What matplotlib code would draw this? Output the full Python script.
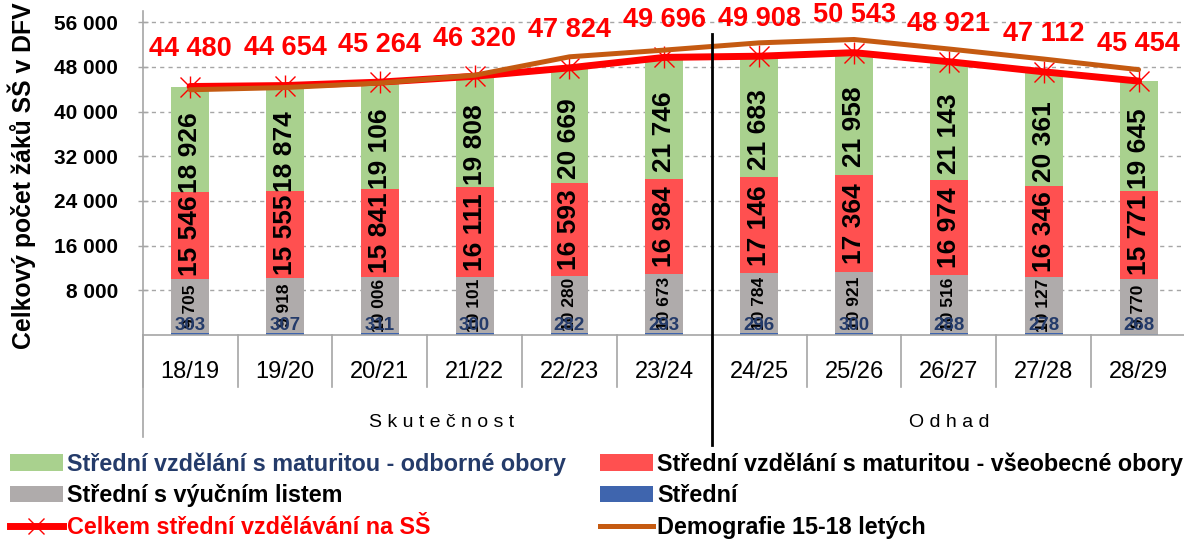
import matplotlib
matplotlib.use("Agg")
import matplotlib.pyplot as plt
from matplotlib.patches import Patch
from matplotlib.lines import Line2D
from matplotlib.ticker import FuncFormatter
import matplotlib.transforms as mtransforms

plt.rcParams['font.family'] = ['Liberation Sans', 'DejaVu Sans']

years = ["18/19", "19/20", "20/21", "21/22", "22/23", "23/24",
         "24/25", "25/26", "26/27", "27/28", "28/29"]
stredni = [303, 307, 311, 300, 282, 293, 296, 300, 288, 278, 268]
vyucni = [9705, 9918, 10006, 10101, 10280, 10673, 10784, 10921, 10516, 10127, 9770]
vseobecne = [15546, 15555, 15841, 16111, 16593, 16984, 17146, 17364, 16974, 16346, 15771]
odborne = [18926, 18874, 19106, 19808, 20669, 21746, 21683, 21958, 21143, 20361, 19645]
celkem = [44480, 44654, 45264, 46320, 47824, 49696, 49908, 50543, 48921, 47112, 45454]
demografie = [43900, 44300, 45100, 46500, 49800, 51000, 52300, 52900, 51200, 49400, 47500]
groups = ["S k u t e č n o s t", "O d h a d"]
group_sizes = [6, 5]
y_ticks = [8000, 16000, 24000, 32000, 40000, 48000, 56000]

C_GREEN = '#A9D18E'
C_RED = '#FF5050'
C_GREY = '#AFABAB'
C_BLUE = '#3F65AE'
C_LINE = '#FF0000'
C_BROWN = '#C55A11'
C_NAVY = '#243B6A'
C_AXIS = '#A6A6A6'

def fmt(v):
    return f"{v:,}".replace(",", " ")

fig = plt.figure(figsize=(11.84, 5.42), dpi=100)
ax = fig.add_axes([0.1205, 0.3819, 0.8812, 0.5978])

x = list(range(len(years)))
w = 0.4
b1 = stredni
b2 = [a + b for a, b in zip(b1, vyucni)]
b3 = [a + b for a, b in zip(b2, vseobecne)]

ax.bar(x, stredni, w, color=C_BLUE, zorder=2)
ax.bar(x, vyucni, w, bottom=b1, color=C_GREY, zorder=2)
ax.bar(x, vseobecne, w, bottom=b2, color=C_RED, zorder=2)
ax.bar(x, odborne, w, bottom=b3, color=C_GREEN, zorder=2)

ax.plot(x, celkem, color=C_LINE, lw=5, zorder=3, solid_capstyle='round')
ax.plot(x, celkem, ls='none', marker='x', ms=14, mew=1, color=C_LINE, zorder=3)
ax.plot(x, celkem, ls='none', marker='|', ms=16, mew=1, color=C_LINE, zorder=3)
ax.plot(x, demografie, color=C_BROWN, lw=3.6, zorder=4, solid_capstyle='round')

for i in x:
    # grey
    ax.text(i, b1[i] + vyucni[i] / 2, fmt(vyucni[i]), rotation=90, ha='center', va='center',
            fontsize=12.5, fontweight='bold', color='black', zorder=6)
    # red
    ax.text(i, b2[i] + vseobecne[i] / 2, fmt(vseobecne[i]), rotation=90, ha='center', va='center',
            fontsize=19, fontweight='bold', color='black', zorder=6)
    # green
    ax.annotate(fmt(odborne[i]), (i, b3[i] + odborne[i] / 2), xytext=(0, -9.5),
                textcoords='offset points', rotation=90, ha='center', va='center',
                fontsize=19, fontweight='bold', color='black', zorder=6)
    # blue
    ax.text(i, 1700, fmt(stredni[i]), ha='center', va='center',
            fontsize=13.5, fontweight='bold', color=C_NAVY, zorder=7)
    # totals
    ax.annotate(fmt(celkem[i]), (i, celkem[i]), xytext=(0, 27),
                textcoords='offset points', ha='center', va='center',
                fontsize=19.5, fontweight='bold', color=C_LINE, zorder=7)

ax.set_xlim(-0.5, len(years) - 0.5)
ax.set_ylim(0, 58000)
ax.set_yticks(y_ticks)
ax.yaxis.set_major_formatter(FuncFormatter(lambda v, p: fmt(int(v))))
ax.tick_params(axis='y', direction='inout', length=7, width=1, color=C_AXIS,
               labelsize=15, pad=14)
for lab in ax.get_yticklabels():
    lab.set_fontweight('bold')
ax.set_xticks(x)
ax.set_xticklabels(years, fontsize=17)
ax.tick_params(axis='x', length=0, pad=19)
ax.grid(axis='y', color=C_AXIS, ls=(0, (3, 3)), lw=1, zorder=0)
ax.set_axisbelow(True)
for s in ['top', 'right']:
    ax.spines[s].set_visible(False)
ax.spines['left'].set_color(C_AXIS)
ax.spines['bottom'].set_color(C_AXIS)
ax.spines['left'].set_linewidth(1.2)
ax.spines['bottom'].set_linewidth(1.2)

trans = mtransforms.blended_transform_factory(ax.transData, ax.transAxes)
for k in range(len(years) + 1):
    xb = k - 0.5
    ax.plot([xb, xb], [0, -0.16], transform=trans, color=C_AXIS, lw=1.2, clip_on=False)
ax.plot([-0.5, -0.5], [0, -0.315], transform=trans, color=C_AXIS, lw=1.2, clip_on=False)
group_shift = [0.15, 0.0]
start = 0
for g, n, sh in zip(groups, group_sizes, group_shift):
    ax.text(start + (n - 1) / 2 + sh, -0.27, g, transform=trans, ha='center', va='center',
            fontsize=14, color='black')
    start += n
sep = group_sizes[0] - 0.5
ax.plot([sep, sep], [0.93, -0.34], transform=trans, color='black', lw=2, clip_on=False, zorder=8)

fig.text(22 / 1184, 1 - 176 / 542, "Celkový počet žáků SŠ v DFV", rotation=90,
         ha='center', va='center', fontsize=17.8, fontweight='bold')

h_green = Patch(facecolor=C_GREEN)
h_red = Patch(facecolor=C_RED)
h_grey = Patch(facecolor=C_GREY)
h_blue = Patch(facecolor=C_BLUE)
h_tot = Line2D([0], [0], color=C_LINE, lw=5, marker='x', ms=12, mew=1, mec=C_LINE)
h_dem = Line2D([0], [0], color=C_BROWN, lw=3.6)

leg_kw = dict(loc='upper left', frameon=False, prop={'size': 16.8, 'weight': 'bold'},
              handlelength=2.25, handletextpad=0.2, labelspacing=0.37, borderpad=0,
              borderaxespad=0)
leg1 = fig.legend([h_green, h_grey, h_tot],
                  ["Střední vzdělání s maturitou - odborné obory", "Střední s výučním listem",
                   "Celkem střední vzdělávání na SŠ"],
                  bbox_to_anchor=(10 / 1184, 1 - 452 / 542), **leg_kw)
leg2 = fig.legend([h_red, h_blue, h_dem],
                  ["Střední vzdělání s maturitou - všeobecné obory", "Střední", "Demografie 15-18 letých"],
                  bbox_to_anchor=(600 / 1184, 1 - 452 / 542), **leg_kw)
t = leg1.get_texts()
t[0].set_color(C_NAVY)
t[2].set_color(C_LINE)

fig.savefig("out.png", dpi=100)
